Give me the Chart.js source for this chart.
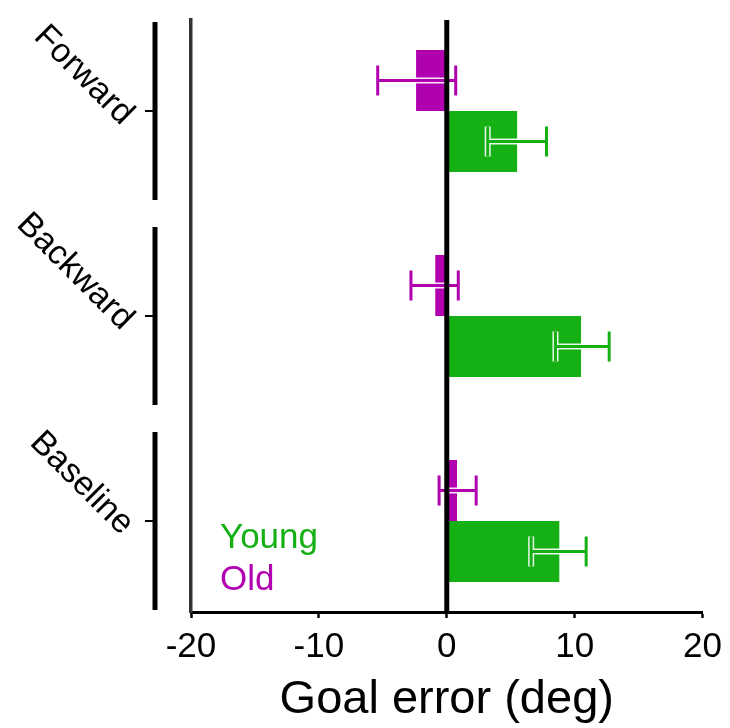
<!DOCTYPE html>
<html>
<head>
<meta charset="utf-8">
<script src="https://cdn.jsdelivr.net/npm/chart.js@4.4.1/dist/chart.umd.min.js"></script>
<style>
  html, body { margin: 0; padding: 0; background: #fff; }
  #wrap { width: 730px; height: 728px; }
</style>
</head>
<body>
<div id="wrap"><canvas id="c" width="730" height="728"></canvas></div>
<script>
// Conditions, top to bottom
const categories = ['Forward', 'Backward', 'Baseline'];

// Mean goal error (deg) with error-bar limits
const youngMean = [5.5, 10.5, 8.8];
const youngLow  = [3.2, 8.5, 6.6];
const youngHigh = [7.8, 12.7, 10.9];

const oldMean = [-2.4, -0.9, 0.8];
const oldLow  = [-5.4, -2.8, -0.6];
const oldHigh = [0.7, 0.9, 2.3];

const xTicks = [-20, -10, 0, 10, 20];

const GREEN = '#14b014';
const PURPLE = '#b000b0';
const FONT = 'Liberation Sans, Arial, sans-serif';

const overlay = {
  id: 'overlay',
  afterDatasetsDraw(chart) {
    const { ctx, chartArea, scales: { x, y } } = chart;

    // error bars: white halo under a coloured stroke
    const sets = [[oldLow, oldHigh, PURPLE], [youngLow, youngHigh, GREEN]];
    sets.forEach(([lo, hi, col], d) => {
      chart.getDatasetMeta(d).data.forEach((bar, i) => {
        const yc = bar.y;
        const x1 = x.getPixelForValue(lo[i]);
        const x2 = x.getPixelForValue(hi[i]);
        const cap = 15;
        const path = () => {
          ctx.beginPath();
          ctx.moveTo(x1, yc); ctx.lineTo(x2, yc);
          ctx.moveTo(x1, yc - cap); ctx.lineTo(x1, yc + cap);
          ctx.moveTo(x2, yc - cap); ctx.lineTo(x2, yc + cap);
        };
        ctx.save();
        ctx.lineCap = 'butt';
        path(); ctx.strokeStyle = 'rgba(255,255,255,0.9)'; ctx.lineWidth = 6; ctx.stroke();
        path(); ctx.strokeStyle = col; ctx.lineWidth = 3; ctx.stroke();
        ctx.restore();
      });
    });

    // zero reference line
    const x0 = x.getPixelForValue(0);
    ctx.save();
    ctx.strokeStyle = '#000';
    ctx.lineWidth = 5;
    ctx.beginPath();
    ctx.moveTo(x0, chartArea.top);
    ctx.lineTo(x0, chartArea.bottom);
    ctx.stroke();
    ctx.restore();

    // condition brackets and rotated labels
    categories.forEach((name, i) => {
      const c = y.getPixelForValue(i);
      const t = y.getPixelForValue(i - 0.434);
      const b = y.getPixelForValue(i + 0.434);
      ctx.save();
      ctx.strokeStyle = '#000';
      ctx.lineWidth = 5;
      ctx.beginPath();
      ctx.moveTo(155, t); ctx.lineTo(155, b);
      ctx.stroke();
      ctx.lineWidth = 2;
      ctx.beginPath();
      ctx.moveTo(145, c); ctx.lineTo(155, c);
      ctx.stroke();

      ctx.translate(121, c + 15);
      ctx.rotate(Math.PI / 4);
      ctx.font = '34px ' + FONT;
      ctx.fillStyle = '#000';
      ctx.textAlign = 'right';
      ctx.textBaseline = 'alphabetic';
      ctx.fillText(name, 0, 0);
      ctx.restore();
    });

    // series key
    ctx.save();
    ctx.font = '35px ' + FONT;
    ctx.textAlign = 'left';
    ctx.textBaseline = 'alphabetic';
    ctx.fillStyle = GREEN;
    ctx.fillText('Young', 220, 548);
    ctx.fillStyle = PURPLE;
    ctx.fillText('Old', 220, 590);
    ctx.restore();
  }
};

new Chart(document.getElementById('c'), {
  type: 'bar',
  data: {
    datasets: [
      {
        label: 'Old',
        data: categories.map((_, i) => ({ x: oldMean[i], y: i })),
        backgroundColor: PURPLE,
        borderWidth: 0
      },
      {
        label: 'Young',
        data: categories.map((_, i) => ({ x: youngMean[i], y: i })),
        backgroundColor: GREEN,
        borderWidth: 0
      }
    ]
  },
  options: {
    indexAxis: 'y',
    responsive: false,
    animation: false,
    devicePixelRatio: 1,
    categoryPercentage: 0.595,
    barPercentage: 1,
    layout: { padding: { top: 20, right: 27, bottom: 0, left: 0 } },
    plugins: { legend: { display: false }, tooltip: { enabled: false } },
    scales: {
      x: {
        type: 'linear',
        min: -20,
        max: 20,
        afterBuildTicks: s => { s.ticks = xTicks.map(v => ({ value: v })); },
        afterFit: s => { s.height = 116; },
        ticks: {
          color: '#000',
          padding: 8,
          font: { family: FONT, size: 35 },
          callback: v => String(v)
        },
        grid: {
          display: true,
          drawOnChartArea: false,
          drawTicks: true,
          tickLength: 6,
          tickWidth: 2.5,
          tickColor: '#000'
        },
        border: { display: true, color: '#000', width: 3 },
        title: {
          display: true,
          text: 'Goal error (deg)',
          color: '#000',
          font: { family: FONT, size: 47 },
          padding: { top: 0, bottom: 0 }
        }
      },
      y: {
        type: 'linear',
        reverse: true,
        offset: false,
        min: -0.444,
        max: 2.444,
        afterBuildTicks: s => { s.ticks = categories.map((_, i) => ({ value: i })); },
        afterFit: s => { s.width = 191; },
        ticks: { display: false },
        grid: { display: false },
        border: { display: true, color: '#333', width: 3.5 }
      }
    }
  },
  plugins: [overlay]
});
</script>
</body>
</html>
